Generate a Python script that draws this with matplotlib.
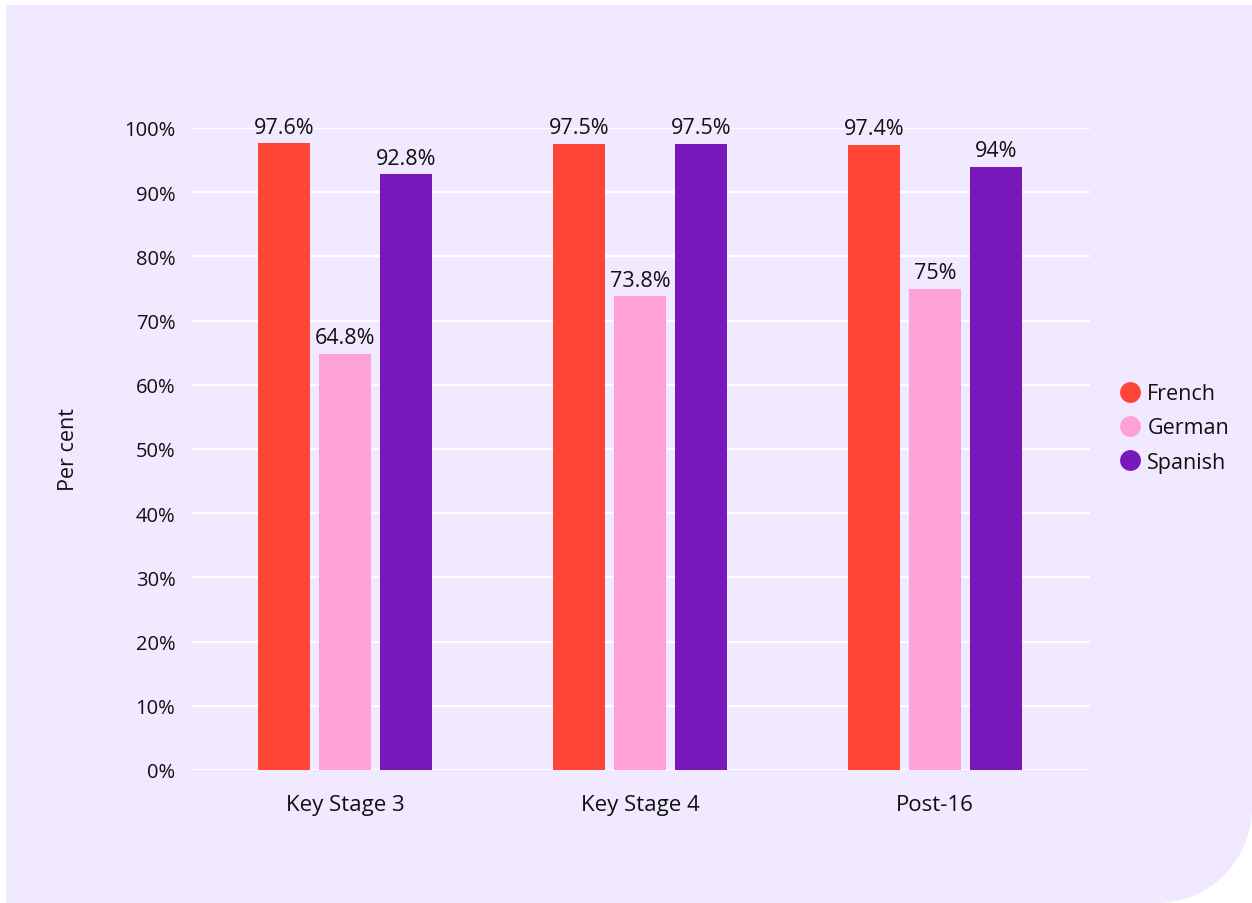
import matplotlib.pyplot as plt
import numpy as np
from matplotlib.patches import Polygon

stages = ['Key Stage 3', 'Key Stage 4', 'Post-16']
languages = ['French', 'German', 'Spanish']
french = [97.6, 97.5, 97.4]
german = [64.8, 73.8, 75]
spanish = [92.8, 97.5, 94]
y_ticks = list(range(0, 101, 10))

COLORS = ['#FF4536', '#FFA1D6', '#7817BC']
PANEL = '#F1E9FF'
W, H = 1252, 904

plt.rcParams['font.family'] = ['Open Sans', 'DejaVu Sans']

fig = plt.figure(figsize=(W / 100, H / 100), dpi=100, facecolor='white')

# lavender panel, square corners except a large rounded bottom-right one
x0, y0, x1, y1, r = 6, 0, W, H - 6, 95
arc = np.linspace(-np.pi / 2, 0, 40)
corner = np.column_stack([x1 - r + r * np.cos(arc), y0 + r + r * np.sin(arc)])
verts = np.vstack([[[x0, y1], [x0, y0]], corner, [[x1, y1]]])
fig.patches.append(Polygon(verts, closed=True, transform=None,
                           facecolor=PANEL, edgecolor='none', zorder=-5))

ax = fig.add_axes([192 / W, 1 - 771 / H, (1090 - 192) / W, (771 - 129) / H])
ax.set_facecolor('none')

x = np.arange(len(stages))
width = 0.176
offset = 0.207
for i, (lang, vals) in enumerate(zip(languages, [french, german, spanish])):
    pos = x + (i - 1) * offset
    bars = ax.bar(pos, vals, width=width, color=COLORS[i], label=lang, zorder=3)
    for b, v in zip(bars, vals):
        ax.annotate(f'{v:g}%', (b.get_x() + b.get_width() / 2, v),
                    xytext=(0, 4), textcoords='offset points',
                    ha='center', va='bottom', fontsize=15.5, color='#111111')

ax.set_ylim(0, 100)
ax.set_xlim(-0.52, 2.525)
ax.set_yticks(y_ticks)
ax.set_yticklabels([f'{t}%' for t in y_ticks])
ax.set_xticks(x)
ax.set_xticklabels(stages)
ax.grid(axis='y', color='white', linewidth=1.6, zorder=0)
ax.tick_params(axis='y', length=0, labelsize=14.5, colors='#111111', pad=12)
ax.tick_params(axis='x', length=0, labelsize=16, colors='#111111', pad=17)
for s in ax.spines.values():
    s.set_visible(False)

fig.text(68 / W, 1 - 450 / H, 'Per cent', rotation=90, ha='center', va='center',
         fontsize=15.5, color='#111111')

handles = [plt.Line2D([], [], marker='o', linestyle='none', markersize=15,
                      markerfacecolor=c, markeredgecolor='none') for c in COLORS]
fig.legend(handles, languages, loc='center left',
           bbox_to_anchor=(1100 / W, 1 - 429 / H), frameon=False,
           fontsize=15.5, handletextpad=0.3, labelspacing=0.62,
           handlelength=1.0, labelcolor='#111111')

fig.savefig('out.png', dpi=100, facecolor='white')
